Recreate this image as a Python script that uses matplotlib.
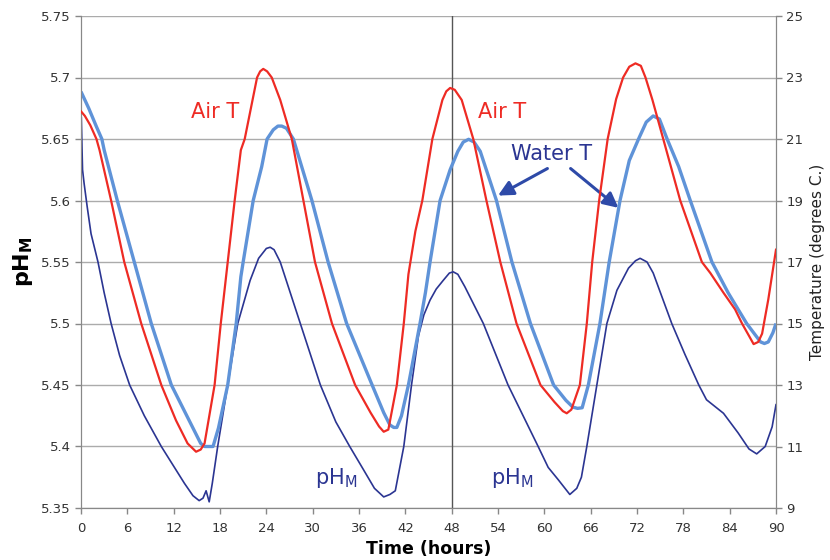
import matplotlib
matplotlib.use("Agg")
import matplotlib.pyplot as plt

# chart data
# Air temperature (deg C), right axis
air_hr = [0, 0.5, 1.2, 2.0, 2.4, 3.9, 5.6, 7.8, 10.4, 12.3, 13.8, 14.9, 15.5, 16.0,
          17.3, 18.1, 19.0, 19.9, 20.7, 21.2, 22.2, 22.8, 23.2, 23.6, 24.1, 24.7,
          25.8, 27.3, 28.8, 30.3, 32.5, 35.5, 37.5, 38.6, 39.2, 39.8, 40.9, 41.8,
          42.4, 43.3, 44.2, 45.5, 46.8, 47.3, 47.8, 48.4, 49.3, 50.8, 52.5, 54.3,
          56.4, 59.5, 61.3, 62.4, 62.9, 63.5, 64.6, 65.5, 66.2, 67.1, 68.2, 69.3,
          70.2, 71.0, 71.8, 72.5, 73.1, 74.0, 75.4, 77.6, 80.4, 81.5, 83.2, 84.7,
          85.6, 86.5, 87.1, 87.7, 88.2, 89.0, 90.0]
air_t = [21.9, 21.75, 21.45, 21.0, 20.64, 19.0, 17.0, 15.0, 13.0, 11.85, 11.1, 10.83, 10.9, 11.1,
         13.0, 15.0, 17.0, 19.0, 20.64, 21.0, 22.25, 23.0, 23.2, 23.28, 23.2, 23.0,
         22.27, 21.0, 19.0, 17.0, 15.0, 13.0, 12.1, 11.65, 11.48, 11.55, 13.0, 15.0,
         16.6, 18.0, 19.0, 21.0, 22.27, 22.55, 22.66, 22.6, 22.27, 21.0, 19.0, 17.0,
         15.0, 13.0, 12.45, 12.15, 12.08, 12.2, 13.0, 15.0, 17.0, 19.0, 21.0, 22.3,
         23.0, 23.35, 23.46, 23.38, 23.0, 22.27, 21.0, 19.0, 17.0, 16.64, 16.0, 15.46,
         15.0, 14.6, 14.33, 14.4, 14.67, 15.78, 17.4]

# Water temperature (deg C), right axis
water_hr = [0, 1.0, 2.0, 2.7, 3.0, 4.7, 6.9, 9.1, 11.7, 13.5, 15.5, 16.0, 16.6, 17.1,
            17.8, 19.0, 20.1, 20.7, 21.0, 22.3, 23.4, 24.1, 24.9, 25.5, 26.0, 26.6,
            27.5, 29.9, 32.0, 34.4, 37.7, 39.2, 40.0, 40.5, 40.9, 41.5, 42.4, 43.9,
            44.6, 45.2, 46.5, 47.8, 48.8, 49.5, 50.2, 50.9, 51.7, 53.8, 55.8, 58.2, 61.2,
            62.8, 63.7, 64.3, 64.9, 65.7, 67.2, 68.4, 69.8, 71.0, 72.2, 73.2, 74.1,
            74.9, 75.9, 77.4, 78.9, 81.7, 83.8, 86.2, 87.4, 88.0, 88.5, 89.0, 89.6, 90.0]
water_t = [22.54, 22.0, 21.4, 21.0, 20.64, 19.0, 17.0, 15.0, 13.0, 12.1, 11.1, 11.0, 11.0, 11.0,
           11.6, 13.0, 15.0, 16.52, 17.0, 19.0, 20.1, 21.0, 21.3, 21.42, 21.42, 21.35,
           21.0, 19.0, 17.0, 15.0, 13.0, 12.1, 11.7, 11.62, 11.62, 12.0, 13.0, 15.0,
           16.0, 17.0, 19.0, 20.0, 20.6, 20.9, 20.99, 20.9, 20.6, 19.0, 17.0, 15.0, 13.0,
           12.5, 12.28, 12.24, 12.26, 13.0, 15.0, 17.0, 19.0, 20.3, 21.0, 21.55, 21.75,
           21.65, 21.0, 20.1, 19.0, 17.0, 16.0, 15.0, 14.6, 14.4, 14.35, 14.4, 14.7, 15.0]

# measured pH, left axis
ph_hr = [0, 0.03, 0.2, 0.4, 0.8, 1.3, 2.2, 3.0, 3.9, 5.0, 6.3, 8.2, 10.4, 12.0, 13.4,
         14.5, 15.3, 15.8, 16.2, 16.6, 17.0, 17.7, 19.0, 20.3, 21.9, 23.0, 24.0, 24.5,
         25.0, 25.8, 28.4, 31.0, 33.0, 34.8, 36.5, 38.0, 39.2, 40.0, 40.7, 41.8, 42.8,
         43.7, 44.4, 45.2, 46.0, 46.9, 47.7, 48.2, 48.8, 49.7, 52.1, 55.3, 59.2, 60.5, 61.8,
         63.3, 64.2, 64.8, 65.5, 66.8, 68.1, 69.4, 70.9, 71.8, 72.4, 73.3, 74.1, 76.5,
         78.2, 80.0, 81.0, 83.2, 85.1, 86.5, 87.5, 88.6, 89.5, 90.0]
ph_m = [5.558, 5.668, 5.625, 5.614, 5.595, 5.573, 5.55, 5.525, 5.5, 5.474, 5.45, 5.425, 5.4, 5.384, 5.37,
        5.36, 5.356, 5.358, 5.364, 5.355, 5.37, 5.4, 5.45, 5.5, 5.535, 5.553, 5.561, 5.562,
        5.56, 5.55, 5.5, 5.45, 5.42, 5.4, 5.382, 5.366, 5.359, 5.361, 5.364, 5.4, 5.45,
        5.49, 5.507, 5.519, 5.528, 5.535, 5.541, 5.542, 5.54, 5.53, 5.5, 5.45, 5.4, 5.383, 5.373,
        5.361, 5.366, 5.375, 5.4, 5.45, 5.5, 5.527, 5.545, 5.551, 5.553, 5.55, 5.541, 5.5,
        5.475, 5.45, 5.438, 5.427, 5.411, 5.398, 5.394, 5.4, 5.416, 5.434]

x_ticks = list(range(0, 91, 6))
ph_ticks = [5.35, 5.4, 5.45, 5.5, 5.55, 5.6, 5.65, 5.7, 5.75]
t_ticks = list(range(9, 26, 2))

red = "#ee2b24"
light_blue = "#5f93d8"
dark_blue = "#2b3592"
grey = "#888888"

fig = plt.figure(figsize=(8.3, 5.6), dpi=100)
ax = fig.add_axes([81 / 830, 1 - 508 / 560, (776 - 81) / 830, (508 - 16) / 560])
ax2 = ax.twinx()

ax.set_xlim(0, 90)
ax.set_ylim(5.35, 5.75)
ax2.set_ylim(9, 25)

for v in ph_ticks:
    ax.axhline(v, color="#ababab", lw=1.0, zorder=0)
ax.axvline(48, color="#555555", lw=1.0, zorder=1)

ax.plot(ph_hr, ph_m, color=dark_blue, lw=1.2, zorder=3)
ax2.plot(water_hr, water_t, color=light_blue, lw=2.4, zorder=2, solid_capstyle="butt")
ax2.plot(air_hr, air_t, color=red, lw=1.6, zorder=3)

ax.set_xticks(x_ticks)
ax.set_yticks(ph_ticks)
ax.set_yticklabels([("%g" % v) for v in ph_ticks])
ax2.set_yticks(t_ticks)

for a in (ax, ax2):
    for s in a.spines.values():
        s.set_color(grey)
    a.spines["top"].set_visible(False)
    a.tick_params(colors=grey, labelcolor="#333333", labelsize=9.5, length=4, width=1)
ax.tick_params(axis="x", pad=6)

ax.set_xlabel("Time (hours)", fontsize=12.5, fontweight="bold", labelpad=4)
ax.set_ylabel("pH$_\\mathbf{M}$", fontsize=16, fontweight="bold", labelpad=4)
ax2.set_ylabel("Temperature (degrees C.)", fontsize=11, labelpad=5, color="#222222")

# in-plot annotations
ax.text(17.4, 5.672, "Air T", color=red, fontsize=15, ha="center", va="center")
ax.text(54.5, 5.672, "Air T", color=red, fontsize=15, ha="center", va="center")
ax.text(60.9, 5.638, "Water T", color=dark_blue, fontsize=15, ha="center", va="center")
ax.text(33.0, 5.374, "pH$_\\mathregular{M}$", color=dark_blue, fontsize=15, ha="center", va="center")
ax.text(55.8, 5.374, "pH$_\\mathregular{M}$", color=dark_blue, fontsize=15, ha="center", va="center")

arrow = dict(arrowstyle="-|>,head_length=0.9,head_width=0.45", color="#2e4aa8", lw=2.2, shrinkA=0, shrinkB=0)
ax.annotate("", xy=(54.0, 5.604), xytext=(60.4, 5.626), arrowprops=arrow)
ax.annotate("", xy=(69.6, 5.594), xytext=(63.4, 5.626), arrowprops=arrow)

fig.savefig("out.png", dpi=100)
